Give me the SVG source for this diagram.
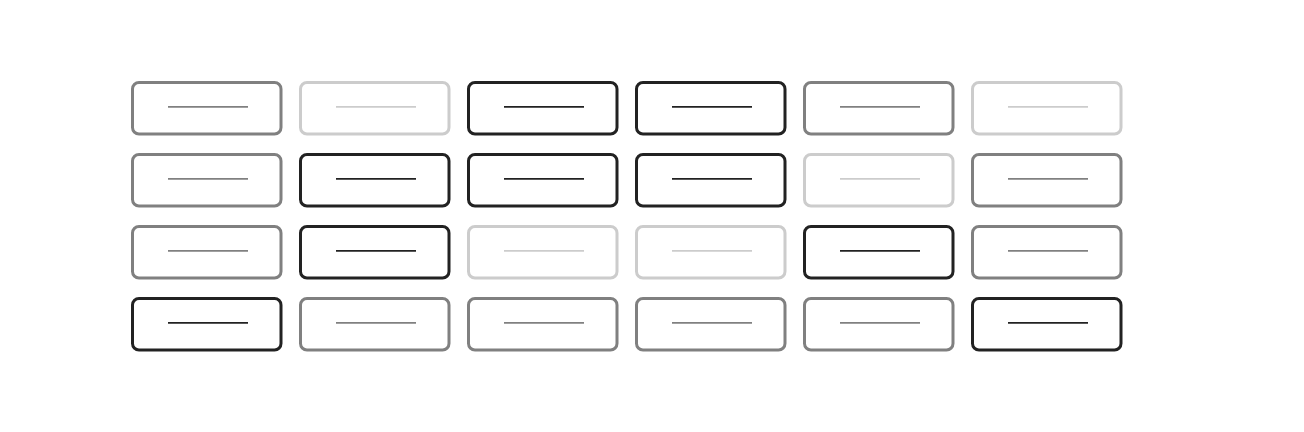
<svg xmlns="http://www.w3.org/2000/svg" width="1304" height="432" viewBox="0 0 1304 432">
<style>
.box{fill:#fff;stroke-width:3}
.bar{stroke-width:1.8}
.g .box,.g .bar{stroke:#808080}
.l .box,.l .bar{stroke:#cccccc}
.d .box,.d .bar{stroke:#222222}
</style>
<rect x="0" y="0" width="1304" height="432" fill="#fff"/>
<g id="r0c0" class="g"><rect class="box" x="132.5" y="82.5" width="148.5" height="51.5" rx="6.5"/><line class="bar" x1="168" y1="106.8" x2="248" y2="106.8"/></g>
<g id="r0c1" class="l"><rect class="box" x="300.5" y="82.5" width="148.5" height="51.5" rx="6.5"/><line class="bar" x1="336" y1="106.8" x2="416" y2="106.8"/></g>
<g id="r0c2" class="d"><rect class="box" x="468.5" y="82.5" width="148.5" height="51.5" rx="6.5"/><line class="bar" x1="504" y1="106.8" x2="584" y2="106.8"/></g>
<g id="r0c3" class="d"><rect class="box" x="636.5" y="82.5" width="148.5" height="51.5" rx="6.5"/><line class="bar" x1="672" y1="106.8" x2="752" y2="106.8"/></g>
<g id="r0c4" class="g"><rect class="box" x="804.5" y="82.5" width="148.5" height="51.5" rx="6.5"/><line class="bar" x1="840" y1="106.8" x2="920" y2="106.8"/></g>
<g id="r0c5" class="l"><rect class="box" x="972.5" y="82.5" width="148.5" height="51.5" rx="6.5"/><line class="bar" x1="1008" y1="106.8" x2="1088" y2="106.8"/></g>
<g id="r1c0" class="g"><rect class="box" x="132.5" y="154.5" width="148.5" height="51.5" rx="6.5"/><line class="bar" x1="168" y1="178.8" x2="248" y2="178.8"/></g>
<g id="r1c1" class="d"><rect class="box" x="300.5" y="154.5" width="148.5" height="51.5" rx="6.5"/><line class="bar" x1="336" y1="178.8" x2="416" y2="178.8"/></g>
<g id="r1c2" class="d"><rect class="box" x="468.5" y="154.5" width="148.5" height="51.5" rx="6.5"/><line class="bar" x1="504" y1="178.8" x2="584" y2="178.8"/></g>
<g id="r1c3" class="d"><rect class="box" x="636.5" y="154.5" width="148.5" height="51.5" rx="6.5"/><line class="bar" x1="672" y1="178.8" x2="752" y2="178.8"/></g>
<g id="r1c4" class="l"><rect class="box" x="804.5" y="154.5" width="148.5" height="51.5" rx="6.5"/><line class="bar" x1="840" y1="178.8" x2="920" y2="178.8"/></g>
<g id="r1c5" class="g"><rect class="box" x="972.5" y="154.5" width="148.5" height="51.5" rx="6.5"/><line class="bar" x1="1008" y1="178.8" x2="1088" y2="178.8"/></g>
<g id="r2c0" class="g"><rect class="box" x="132.5" y="226.5" width="148.5" height="51.5" rx="6.5"/><line class="bar" x1="168" y1="250.8" x2="248" y2="250.8"/></g>
<g id="r2c1" class="d"><rect class="box" x="300.5" y="226.5" width="148.5" height="51.5" rx="6.5"/><line class="bar" x1="336" y1="250.8" x2="416" y2="250.8"/></g>
<g id="r2c2" class="l"><rect class="box" x="468.5" y="226.5" width="148.5" height="51.5" rx="6.5"/><line class="bar" x1="504" y1="250.8" x2="584" y2="250.8"/></g>
<g id="r2c3" class="l"><rect class="box" x="636.5" y="226.5" width="148.5" height="51.5" rx="6.5"/><line class="bar" x1="672" y1="250.8" x2="752" y2="250.8"/></g>
<g id="r2c4" class="d"><rect class="box" x="804.5" y="226.5" width="148.5" height="51.5" rx="6.5"/><line class="bar" x1="840" y1="250.8" x2="920" y2="250.8"/></g>
<g id="r2c5" class="g"><rect class="box" x="972.5" y="226.5" width="148.5" height="51.5" rx="6.5"/><line class="bar" x1="1008" y1="250.8" x2="1088" y2="250.8"/></g>
<g id="r3c0" class="d"><rect class="box" x="132.5" y="298.5" width="148.5" height="51.5" rx="6.5"/><line class="bar" x1="168" y1="322.8" x2="248" y2="322.8"/></g>
<g id="r3c1" class="g"><rect class="box" x="300.5" y="298.5" width="148.5" height="51.5" rx="6.5"/><line class="bar" x1="336" y1="322.8" x2="416" y2="322.8"/></g>
<g id="r3c2" class="g"><rect class="box" x="468.5" y="298.5" width="148.5" height="51.5" rx="6.5"/><line class="bar" x1="504" y1="322.8" x2="584" y2="322.8"/></g>
<g id="r3c3" class="g"><rect class="box" x="636.5" y="298.5" width="148.5" height="51.5" rx="6.5"/><line class="bar" x1="672" y1="322.8" x2="752" y2="322.8"/></g>
<g id="r3c4" class="g"><rect class="box" x="804.5" y="298.5" width="148.5" height="51.5" rx="6.5"/><line class="bar" x1="840" y1="322.8" x2="920" y2="322.8"/></g>
<g id="r3c5" class="d"><rect class="box" x="972.5" y="298.5" width="148.5" height="51.5" rx="6.5"/><line class="bar" x1="1008" y1="322.8" x2="1088" y2="322.8"/></g>
<g id="connectors"></g>
</svg>
